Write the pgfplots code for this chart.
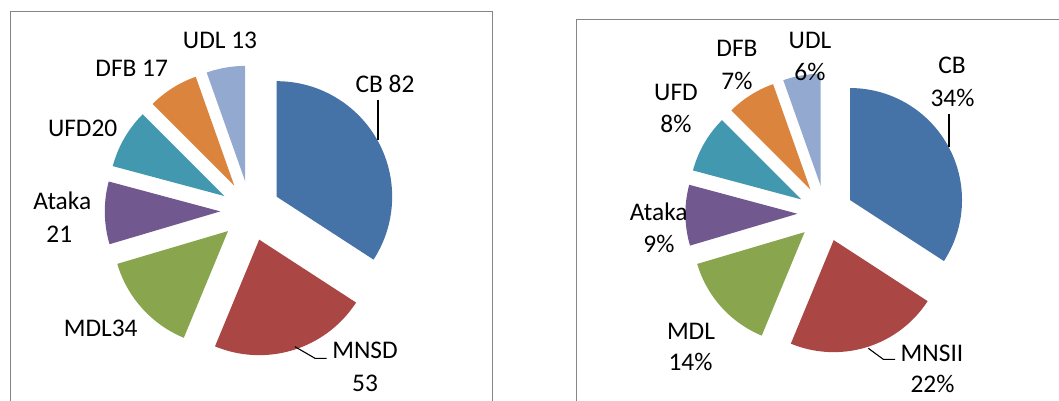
\documentclass[border=0pt]{standalone}
\usepackage{pgfplots}
\pgfplotsset{compat=1.18}
\usepackage{fontspec}
\setmainfont{Carlito}
\definecolor{cCB}{HTML}{4572A7}
\definecolor{cMN}{HTML}{AA4643}
\definecolor{cMD}{HTML}{89A54E}
\definecolor{cAT}{HTML}{71588F}
\definecolor{cUF}{HTML}{4198AF}
\definecolor{cDF}{HTML}{DB843D}
\definecolor{cUD}{HTML}{93A9CF}
\definecolor{frame}{HTML}{868686}
% #1 cx, #2 cy, #3 radius, #4 explode, #5 cumulative before, #6 value, #7 total, #8 colour
\newcommand\pieslice[8]{%
 \pgfmathsetmacro\dpu{360/(#7)}%
 \pgfmathsetmacro\sa{90-(#5)*\dpu}%
 \pgfmathsetmacro\ea{90-((#5)+(#6))*\dpu}%
 \pgfmathsetmacro\md{(\sa+\ea)/2}%
 \pgfmathsetmacro\ox{#1+#4*cos(\md)}%
 \pgfmathsetmacro\oy{#2-#4*sin(\md)}%
 \edef\tmp{\noexpand\addplot[fill=#8,draw=none,domain=\ea:\sa,samples=90,variable=\noexpand\t]
   ({\ox+#3*cos(\noexpand\t)},{\oy-#3*sin(\noexpand\t)}) -- (axis cs:\ox,\oy) -- cycle;}%
 \tmp}
\begin{document}
\begin{tikzpicture}
\begin{axis}[hide axis, scale only axis, width=529.5pt, height=200.5pt,
  xmin=0, xmax=1059, ymin=0, ymax=401, y dir=reverse, clip=false,
  nodes={font=\fontsize{12.7}{15}\selectfont, text=black, inner sep=0pt}]
% frames
\draw[frame, line width=0.65pt] (axis cs:10.5,401) |- (axis cs:492.7,11.7) -- (axis cs:492.7,401);
\draw[frame, line width=0.65pt] (axis cs:576.7,401) |- (axis cs:1059,19.3);
% left pie: CB 82, MNSD 53, MDL 34, Ataka 21, UFD 20, DFB 17, UDL 13 (total 240)
\pieslice{250.3}{211}{115.5}{30}{0}{82}{240}{cCB}
\pieslice{250.3}{211}{115.5}{30}{82}{53}{240}{cMN}
\pieslice{250.3}{211}{115.5}{30}{135}{34}{240}{cMD}
\pieslice{250.3}{211}{115.5}{30}{169}{21}{240}{cAT}
\pieslice{250.3}{211}{115.5}{30}{190}{20}{240}{cUF}
\pieslice{250.3}{211}{115.5}{30}{210}{17}{240}{cDF}
\pieslice{250.3}{211}{115.5}{30}{227}{13}{240}{cUD}
% right pie: same counts shown as percentages
\pieslice{825.4}{213.4}{112}{28}{0}{82}{240}{cCB}
\pieslice{825.4}{213.4}{112}{28}{82}{53}{240}{cMN}
\pieslice{825.4}{213.4}{112}{28}{135}{34}{240}{cMD}
\pieslice{825.4}{213.4}{112}{28}{169}{21}{240}{cAT}
\pieslice{825.4}{213.4}{112}{28}{190}{20}{240}{cUF}
\pieslice{825.4}{213.4}{112}{28}{210}{17}{240}{cDF}
\pieslice{825.4}{213.4}{112}{28}{227}{13}{240}{cUD}
% leader lines
\draw[black, line width=0.55pt] (axis cs:378,100) -- (axis cs:378,140);
\draw[black, line width=0.55pt] (axis cs:295,346.7) -- (axis cs:315,358.3) -- (axis cs:326.7,358.3);
\draw[black, line width=0.55pt] (axis cs:949,114.3) -- (axis cs:949,146.7);
\draw[black, line width=0.55pt] (axis cs:868.3,348.3) -- (axis cs:883.3,359.3) -- (axis cs:895,359.3);
% left labels
\node[anchor=base] at (axis cs:220,48.2) {UDL 13};
\node[anchor=base] at (axis cs:131.7,76.6) {DFB 17};
\node[anchor=base] at (axis cs:385,92.4) {CB 82};
\node[anchor=base] at (axis cs:82.7,136.2) {UFD20};
\node[anchor=base] at (axis cs:62.3,209.6) {Ataka};
\node[anchor=base] at (axis cs:59.3,242.6) {21};
\node[anchor=base] at (axis cs:100.7,336.4) {MDL34};
\node[anchor=base] at (axis cs:365,358.4) {MNSD};
\node[anchor=base] at (axis cs:365,391.6) {53};
% right labels
\node[anchor=base] at (axis cs:810,49) {UDL};
\node[anchor=base] at (axis cs:810,81) {6\%};
\node[anchor=base] at (axis cs:737,56.7) {DFB};
\node[anchor=base] at (axis cs:737,89.3) {7\%};
\node[anchor=base] at (axis cs:952,74) {CB};
\node[anchor=base] at (axis cs:952.5,106.7) {34\%};
\node[anchor=base] at (axis cs:676,101) {UFD};
\node[anchor=base] at (axis cs:676,132.7) {8\%};
\node[anchor=base] at (axis cs:658.7,220) {Ataka};
\node[anchor=base] at (axis cs:659,252.3) {9\%};
\node[anchor=base] at (axis cs:691,339) {MDL};
\node[anchor=base] at (axis cs:690.5,370.7) {14\%};
\node[anchor=base] at (axis cs:932,361) {MNSII};
\node[anchor=base] at (axis cs:932.5,392.7) {22\%};
\end{axis}
\pgfresetboundingbox
\useasboundingbox (current axis.south west) rectangle (current axis.north east);
\end{tikzpicture}
\end{document}
